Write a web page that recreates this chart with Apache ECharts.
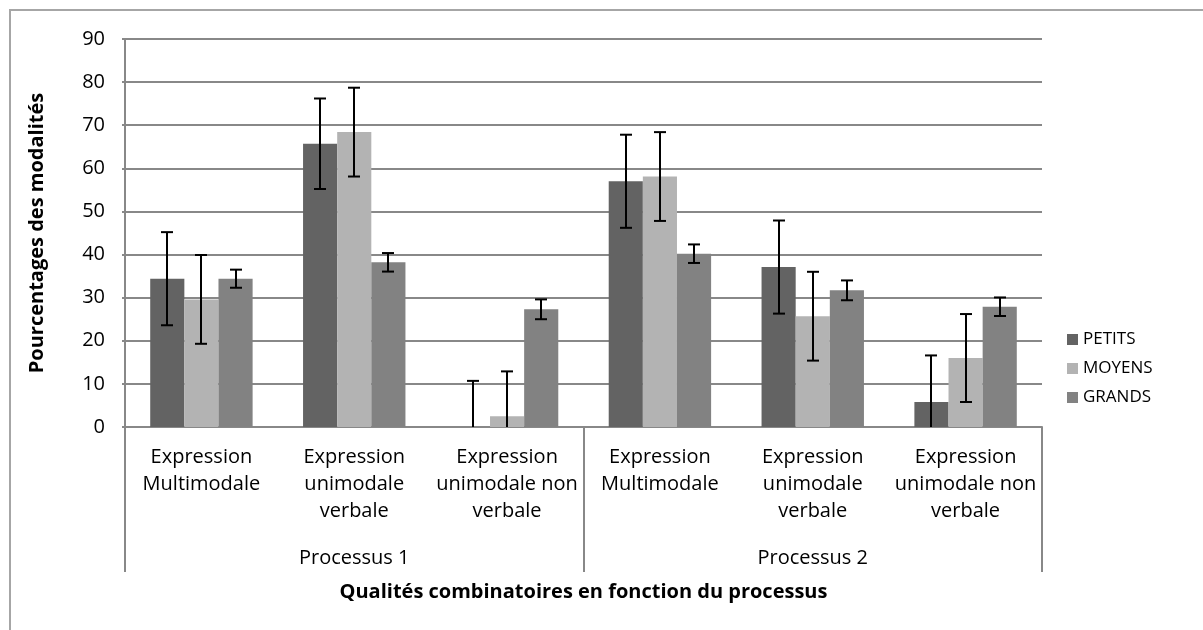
<!DOCTYPE html>
<html>
<head>
<meta charset="utf-8">
<script src="https://cdn.jsdelivr.net/npm/echarts@6/dist/echarts.min.js"></script>
<style>
  html, body { margin: 0; padding: 0; background: #fff; }
  #chart { width: 1203px; height: 630px; }
</style>
</head>
<body>
<div id="chart"></div>
<script>
// catégories (niveau 1) et processus (niveau 2)
const categories = [
  "Expression\nMultimodale",
  "Expression\nunimodale\nverbale",
  "Expression\nunimodale non\nverbale",
  "Expression\nMultimodale",
  "Expression\nunimodale\nverbale",
  "Expression\nunimodale non\nverbale"
];
const processus = ["Processus 1", "Processus 2"];
const seriesNames = ["PETITS", "MOYENS", "GRANDS"];

// valeurs (%)
const petits = [34.4, 65.7, 0, 57.0, 37.1, 5.8];
const moyens = [29.6, 68.4, 2.5, 58.1, 25.7, 16.0];
const grands = [34.4, 38.2, 27.3, 40.2, 31.7, 27.9];

// barres d'erreur (+/-)
const petitsErr = [10.8, 10.5, 10.7, 10.8, 10.8, 10.8];
const moyensErr = [10.3, 10.3, 10.4, 10.3, 10.3, 10.2];
const grandsErr = [2.1, 2.15, 2.3, 2.15, 2.3, 2.15];

const yTicks = [0, 10, 20, 30, 40, 50, 60, 70, 80, 90];

const colors = ["#636363", "#b3b3b3", "#828282"];
const gridColor = "#888888";
const font = "'Open Sans', 'Noto Sans', sans-serif";
const barGroupRatio = 0.67;

const myChart = echarts.init(document.getElementById("chart"));

// barres d'erreur dessinées avec les échelles de l'axe
function errorSeries(idx, values, errs) {
  return {
    type: "custom",
    name: seriesNames[idx] + " erreur",
    xAxisIndex: 0,
    yAxisIndex: 0,
    z: 5,
    silent: true,
    data: values.map((v, i) => [i, v, errs[i]]),
    renderItem: (params, api) => {
      const i = api.value(0);
      const v = api.value(1);
      const e = api.value(2);
      const band = api.size([1, 0])[0];
      const barW = band * barGroupRatio / 3;
      const dx = (idx - 1) * barW;
      const low = Math.max(0, v - e);
      const top = api.coord([i, v + e]);
      const bot = api.coord([i, low]);
      const x = Math.round(top[0] + dx);
      const cap = 6;
      const style = { stroke: "#000", lineWidth: 2 };
      const children = [
        { type: "line", shape: { x1: x, y1: top[1], x2: x, y2: bot[1] }, style },
        { type: "line", shape: { x1: x - cap, y1: top[1], x2: x + cap, y2: top[1] }, style }
      ];
      if (v - e > 0) {
        children.push({ type: "line", shape: { x1: x - cap, y1: bot[1], x2: x + cap, y2: bot[1] }, style });
      }
      return { type: "group", children };
    }
  };
}

const values = [petits, moyens, grands];
const errs = [petitsErr, moyensErr, grandsErr];

const option = {
  backgroundColor: "#fff",
  animation: false,
  color: colors,
  textStyle: { fontFamily: font },
  grid: { left: 125, right: 161, top: 39, bottom: 203 },
  legend: {
    data: seriesNames,
    orient: "vertical",
    left: 1062,
    top: 326,
    itemWidth: 11,
    itemHeight: 11,
    itemGap: 12,
    icon: "rect",
    textStyle: { fontSize: 17, color: "#000", fontFamily: font }
  },
  graphic: [
    {
      type: "rect",
      shape: { x: 10, y: 10, width: 1300, height: 700 },
      style: { fill: "none", stroke: "#a6a6a6", lineWidth: 2 },
      silent: true
    }
  ],
  xAxis: [
    {
      type: "category",
      data: categories,
      position: "bottom",
      axisLine: { show: true, lineStyle: { color: gridColor, width: 2 } },
      axisTick: { show: false },
      axisLabel: {
        interval: 0,
        margin: 17,
        fontSize: 20,
        lineHeight: 27,
        color: "#000",
        fontFamily: font
      }
    },
    {
      type: "category",
      data: processus,
      position: "bottom",
      offset: 145,
      axisLine: { show: false },
      axisTick: { show: true, inside: true, length: 145, lineStyle: { color: gridColor, width: 2 } },
      axisLabel: { inside: true, margin: 4, fontSize: 20, color: "#000", fontFamily: font },
      name: "Qualités combinatoires en fonction du processus",
      nameLocation: "middle",
      nameGap: 10,
      nameTextStyle: { fontSize: 20, fontWeight: "bold", color: "#000", fontFamily: font }
    }
  ],
  yAxis: {
    type: "value",
    min: yTicks[0],
    max: yTicks[yTicks.length - 1],
    interval: 10,
    axisLine: { show: true, lineStyle: { color: gridColor, width: 2 } },
    axisTick: { show: true, length: 3, lineStyle: { color: gridColor, width: 2 } },
    splitLine: { show: true, lineStyle: { color: gridColor, width: 2 } },
    axisLabel: { fontSize: 20, margin: 20, color: "#000", fontFamily: font },
    name: "Pourcentages des modalités",
    nameLocation: "middle",
    nameRotate: 90,
    nameGap: 78,
    nameTextStyle: { fontSize: 20, fontWeight: "bold", color: "#000", fontFamily: font }
  },
  series: [
    ...seriesNames.map((name, k) => ({
      name,
      type: "bar",
      data: values[k],
      barGap: "0%",
      barCategoryGap: "33%",
      itemStyle: { color: colors[k] }
    })),
    ...seriesNames.map((name, k) => errorSeries(k, values[k], errs[k]))
  ]
};

myChart.setOption(option);
</script>
</body>
</html>
